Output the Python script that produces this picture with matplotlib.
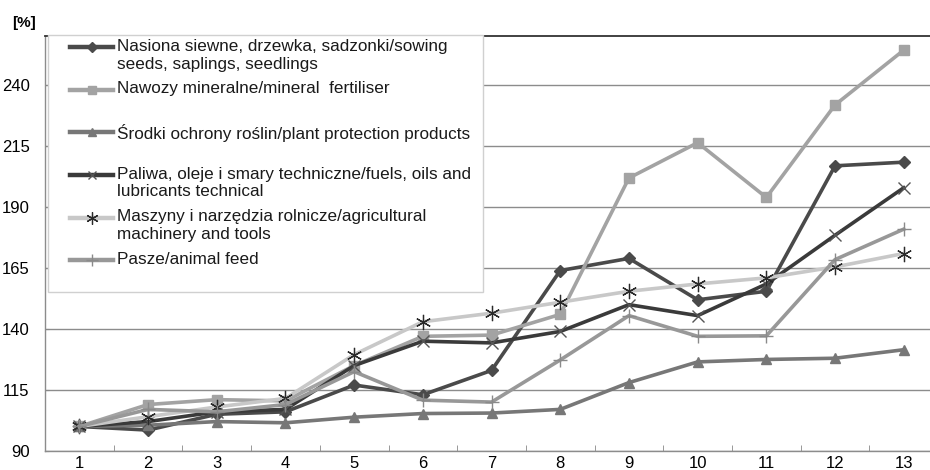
import matplotlib
matplotlib.use("Agg")
import matplotlib.pyplot as plt
from matplotlib.lines import Line2D
from matplotlib.patches import Rectangle

# ---- data ----
categories = list(range(1, 14))
nasiona = [100, 98.5, 105, 106, 117, 113, 123, 164, 169, 152, 155.5, 207, 208.5]
nawozy = [100, 109, 111, 110.5, 125, 137, 137.5, 146, 202, 216.5, 194, 232, 254.5]
srodki = [100, 100.5, 102, 101.5, 103.8, 105.3, 105.5, 107, 118, 126.5, 127.5, 128, 131.5]
paliwa = [100, 102, 106, 107, 125, 135, 134.3, 139, 150, 145.5, 158.5, 178.5, 198]
maszyny = [100, 104, 108, 111.5, 129.5, 143, 146.5, 151, 155.5, 158.5, 161, 165.5, 171]
pasze = [100, 107, 106, 109, 122.5, 110.8, 110, 127.3, 145.5, 137, 137.2, 168.5, 181]
labels = [
    "Nasiona siewne, drzewka, sadzonki/sowing\nseeds, saplings, seedlings",
    "Nawozy mineralne/mineral  fertiliser",
    "Środki ochrony roślin/plant protection products",
    "Paliwa, oleje i smary techniczne/fuels, oils and\nlubricants technical",
    "Maszyny i narzędzia rolnicze/agricultural\nmachinery and tools",
    "Pasze/animal feed",
]
yticks = [90, 115, 140, 165, 190, 215, 240]

plt.rcParams['font.family'] = ['Liberation Sans', 'DejaVu Sans']

W, H = 930, 470
fig = plt.figure(figsize=(W / 100, H / 100), dpi=100)

def fx(px):
    return px / W

def fy(py):
    return 1 - py / H

ax_l, ax_r, ax_t, ax_b = 45, 930, 36, 450.8
ax = fig.add_axes([fx(ax_l), fy(ax_b), fx(ax_r) - fx(ax_l), fy(ax_t) - fy(ax_b)])

styles = [
    dict(color="#4a4a4a", marker="D", ms=6.5, mfc="#4a4a4a", mec="#4a4a4a"),
    dict(color="#a3a3a3", marker="s", ms=7, mfc="#a3a3a3", mec="#a3a3a3"),
    dict(color="#777777", marker="^", ms=7.5, mfc="#777777", mec="#777777"),
    dict(color="#3a3a3a", marker="x", ms=8, mfc="none", mec="#555555", mew=1.0),
    dict(color="#c8c8c8", marker=(6, 2, 0), ms=11, mfc="none", mec="#2a2a2a", mew=0.9),
    dict(color="#989898", marker="+", ms=10, mfc="none", mec="#8a8a8a", mew=1.0),
]
series = [nasiona, nawozy, srodki, paliwa, maszyny, pasze]
order = [4, 5, 2, 3, 0, 1]
for i in order:
    ax.plot(categories, series[i], lw=2.6, zorder=3 + i, clip_on=False, **styles[i])

ax.set_xlim(0.5, 0.5 + (ax_r - ax_l) / 68.7)
ax.set_ylim(90, 260.3)
ax.set_yticks(yticks)
ax.set_yticklabels([str(v) for v in yticks], fontsize=12)
ax.set_xticks(categories)
ax.set_xticklabels([str(c) for c in categories], fontsize=12)
ax.set_xticks([c + 0.5 for c in range(0, 13)], minor=True)
ax.tick_params(axis='x', which='major', length=0, pad=4)
ax.tick_params(axis='x', which='minor', length=4, direction='in', color='#888888')
ax.tick_params(axis='y', length=3, direction='in', color='#888888', pad=11)
ax.grid(axis='y', color='#8c8c8c', lw=1.0, zorder=0)
ax.set_axisbelow(True)
for s in ['left', 'bottom']:
    ax.spines[s].set_color('#8c8c8c')
    ax.spines[s].set_linewidth(1.0)
ax.spines['right'].set_visible(False)
ax.spines['top'].set_color('#333333')
ax.spines['top'].set_linewidth(1.3)

fig.text(fx(12), fy(23), "[%]", fontsize=11, fontweight='bold', va='center', ha='left')

# ---- manual legend ----
box = Rectangle((fx(48), fy(292)), fx(483) - fx(48), fy(35) - fy(292),
                transform=fig.transFigure, facecolor='white', edgecolor='#d0d0d0',
                lw=1.0, zorder=20)
fig.add_artist(box)
row_y = [47, 89.5, 132, 175, 218, 260]
for i, (lab, yy) in enumerate(zip(labels, row_y)):
    st = dict(styles[i])
    st['ms'] = st['ms'] * 0.8
    ln = Line2D([fx(70), fx(113)], [fy(yy), fy(yy)], transform=fig.transFigure,
                lw=3.2, zorder=21, color=st['color'])
    fig.add_artist(ln)
    mk = Line2D([fx(91.5)], [fy(yy)], transform=fig.transFigure, lw=0, zorder=22,
                **{k: v for k, v in st.items() if k != 'color'})
    fig.add_artist(mk)
    fig.text(fx(117), fy(yy - 8.5), lab, fontsize=12.3, va='top', ha='left',
             linespacing=1.25, zorder=23, color='#1a1a1a')

fig.savefig("out.png", dpi=100)
